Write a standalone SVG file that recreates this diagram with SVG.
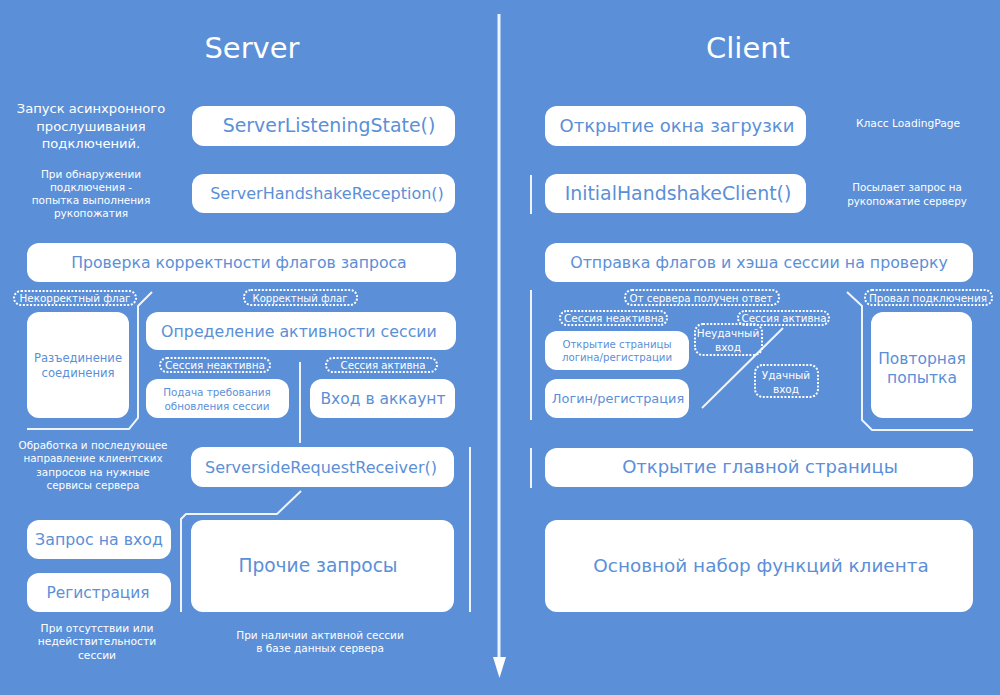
<svg xmlns="http://www.w3.org/2000/svg" width="1000" height="695" viewBox="0 0 1000 695">
<style>
text{font-family:"DejaVu Sans",Verdana,sans-serif;text-anchor:middle}
.b{fill:#fff}
.t{fill:#5b8fd7}
.w{fill:#fff}
.lb{fill:none;stroke:#fff;stroke-width:2;stroke-dasharray:2 1.6}
.ln{fill:none;stroke:#eef3fc;stroke-width:2}
.l{font-size:10.5px;fill:#fff}
</style>
<rect width="1000" height="695" fill="#5b8fd7"/>
<text class="w" x="252" y="58" font-size="29">Server</text>
<text class="w" x="748" y="58" font-size="29">Client</text>

<g id="connectors">
<line x1="499" y1="14" x2="499" y2="658" stroke="#eef3fc" stroke-width="3"/>
<path d="M493,657 L506,657 L499.5,678 Z" fill="#fff"/>
<path class="ln" d="M152,292 L138,306 L138,418 L129,429 L27,429"/>
<line class="ln" x1="300" y1="362" x2="300" y2="443"/>
<path class="ln" d="M301,491 L277,514 L186,514 L181,519 L181,612"/>
<line class="ln" x1="470" y1="447" x2="470" y2="612"/>
<line class="ln" x1="531" y1="175" x2="531" y2="214"/>
<line class="ln" x1="531" y1="290" x2="531" y2="420"/>
<line class="ln" x1="531" y1="448" x2="531" y2="488"/>
<line class="ln" x1="783" y1="328" x2="702" y2="408"/>
<path class="ln" d="M847,292 L862,306 L862,420 L872,430 L973,430"/>
</g>

<g id="note-listen">
<text class="w" font-size="13.1"><tspan x="91" y="113">Запуск асинхронного</tspan><tspan x="91" y="131">прослушивания</tspan><tspan x="91" y="148">подключений.</tspan></text>
</g>
<g id="note-handshake">
<text class="w" font-size="10.5"><tspan x="91" y="178">При обнаружении</tspan><tspan x="91" y="191">подключения -</tspan><tspan x="91" y="204">попытка выполнения</tspan><tspan x="91" y="217">рукопожатия</tspan></text>
</g>
<g id="server-listening">
<rect class="b" x="192" y="106" width="263" height="40" rx="12"/>
<text class="t" x="329" y="132" font-size="18.9">ServerListeningState()</text>
</g>
<g id="server-handshake">
<rect class="b" x="192" y="174" width="263" height="39" rx="12"/>
<text class="t" x="327" y="199" font-size="16">ServerHandshakeReception()</text>
</g>
<g id="check-flags">
<rect class="b" x="27" y="243" width="429" height="39" rx="12"/>
<text class="t" x="239" y="268" font-size="15.7">Проверка корректности флагов запроса</text>
</g>
<g id="lbl-bad-flag">
<rect class="lb" x="14" y="291" width="122" height="14" rx="7"/>
<text class="l" x="75" y="302" textLength="111" lengthAdjust="spacingAndGlyphs">Некорректный флаг</text>
</g>
<g id="lbl-good-flag">
<rect class="lb" x="244" y="290" width="113" height="15" rx="7"/>
<text class="l" x="300" y="302" textLength="95" lengthAdjust="spacingAndGlyphs">Корректный флаг</text>
</g>
<g id="disconnect">
<rect class="b" x="27" y="312" width="102" height="106" rx="12"/>
<text class="t" font-size="11.6"><tspan x="78" y="362">Разъединение</tspan><tspan x="78" y="377">соединения</tspan></text>
</g>
<g id="session-check">
<rect class="b" x="146" y="312" width="310" height="38" rx="12"/>
<text class="t" x="299" y="337" font-size="15.8">Определение активности сессии</text>
</g>
<g id="lbl-s-inactive">
<rect class="lb" x="160" y="358" width="110" height="14" rx="7"/>
<text class="l" x="215" y="369" textLength="100" lengthAdjust="spacingAndGlyphs">Сессия неактивна</text>
</g>
<g id="lbl-s-active">
<rect class="lb" x="326" y="358" width="111" height="14" rx="7"/>
<text class="l" x="383" y="369" textLength="85" lengthAdjust="spacingAndGlyphs">Сессия активна</text>
</g>
<g id="session-update">
<rect class="b" x="146" y="379" width="143" height="39" rx="12"/>
<text class="t" font-size="10.4"><tspan x="217" y="396">Подача требования</tspan><tspan x="217" y="410">обновления сессии</tspan></text>
</g>
<g id="login-acc">
<rect class="b" x="310" y="379" width="145" height="39" rx="12"/>
<text class="t" x="383" y="404" font-size="15.5">Вход в аккаунт</text>
</g>
<g id="note-process">
<text class="w" font-size="10.4"><tspan x="93" y="449">Обработка и последующее</tspan><tspan x="93" y="462">направление клиентских</tspan><tspan x="93" y="476">запросов на нужные</tspan><tspan x="93" y="489">сервисы сервера</tspan></text>
</g>
<g id="request-receiver">
<rect class="b" x="191" y="447" width="263" height="40" rx="12"/>
<text class="t" x="321" y="473" font-size="16">ServersideRequestReceiver()</text>
</g>
<g id="req-login">
<rect class="b" x="27" y="520" width="144" height="39" rx="12"/>
<text class="t" x="99" y="545" font-size="15.8">Запрос на вход</text>
</g>
<g id="req-register">
<rect class="b" x="27" y="573" width="144" height="39" rx="12"/>
<text class="t" x="98" y="598" font-size="15.4">Регистрация</text>
</g>
<g id="req-other">
<rect class="b" x="191" y="520" width="263" height="92" rx="12"/>
<text class="t" x="318" y="572" font-size="18.6">Прочие запросы</text>
</g>
<g id="note-nosession">
<text class="w" font-size="10.7"><tspan x="97" y="632">При отсутствии или</tspan><tspan x="97" y="645">недействительности</tspan><tspan x="97" y="659">сессии</tspan></text>
</g>
<g id="note-session">
<text class="w" font-size="10.5"><tspan x="320" y="639">При наличии активной сессии</tspan><tspan x="320" y="652">в базе данных сервера</tspan></text>
</g>

<g id="open-loading">
<rect class="b" x="545" y="106" width="261" height="40" rx="12"/>
<text class="t" x="677" y="132" font-size="18">Открытие окна загрузки</text>
</g>
<g id="note-loadingpage">
<text class="w" x="908" y="127" font-size="10.7">Класс LoadingPage</text>
</g>
<g id="initial-handshake">
<rect class="b" x="545" y="174" width="261" height="39" rx="12"/>
<text class="t" x="678" y="200" font-size="18.9">InitialHandshakeClient()</text>
</g>
<g id="note-send">
<text class="w" font-size="10.3"><tspan x="907" y="191">Посылает запрос на</tspan><tspan x="907" y="205">рукопожатие серверу</tspan></text>
</g>
<g id="send-flags">
<rect class="b" x="545" y="243" width="428" height="39" rx="12"/>
<text class="t" x="759" y="268" font-size="15.8">Отправка флагов и хэша сессии на проверку</text>
</g>
<g id="lbl-answer">
<rect class="lb" x="625" y="290" width="154" height="15" rx="7"/>
<text class="l" x="701" y="302" textLength="143" lengthAdjust="spacingAndGlyphs">От сервера получен ответ</text>
</g>
<g id="lbl-c-inactive">
<rect class="lb" x="560" y="311" width="107" height="14" rx="7"/>
<text class="l" x="614" y="322" textLength="100" lengthAdjust="spacingAndGlyphs">Сессия неактивна</text>
</g>
<g id="lbl-c-active">
<rect class="lb" x="738" y="311" width="91" height="14" rx="7"/>
<text class="l" x="784" y="322" textLength="85" lengthAdjust="spacingAndGlyphs">Сессия активна</text>
</g>
<g id="lbl-fail">
<rect class="lb" x="695" y="324" width="67" height="31" rx="8"/>
<text class="l"><tspan x="728" y="337">Неудачный</tspan><tspan x="728" y="351">вход</tspan></text>
</g>
<g id="lbl-success">
<rect class="lb" x="755" y="365" width="63" height="32" rx="8"/>
<text class="l"><tspan x="786" y="379">Удачный</tspan><tspan x="786" y="393">вход</tspan></text>
</g>
<g id="open-login-page">
<rect class="b" x="545" y="331" width="144" height="39" rx="12"/>
<text class="t" font-size="10.2"><tspan x="617" y="348">Открытие страницы</tspan><tspan x="617" y="361">логина/регистрации</tspan></text>
</g>
<g id="login-register">
<rect class="b" x="545" y="379" width="144" height="39" rx="12"/>
<text class="t" x="618" y="403" font-size="12.9">Логин/регистрация</text>
</g>
<g id="lbl-conn-fail">
<rect class="lb" x="865" y="290" width="127" height="15" rx="7"/>
<text class="l" x="928" y="302" textLength="118" lengthAdjust="spacingAndGlyphs">Провал подключения</text>
</g>
<g id="retry">
<rect class="b" x="871" y="312" width="101" height="106" rx="12"/>
<text class="t" font-size="15.5"><tspan x="922" y="364">Повторная</tspan><tspan x="922" y="383">попытка</tspan></text>
</g>
<g id="open-main">
<rect class="b" x="545" y="448" width="428" height="39" rx="12"/>
<text class="t" x="760" y="473" font-size="18">Открытие главной страницы</text>
</g>
<g id="client-functions">
<rect class="b" x="545" y="520" width="428" height="92" rx="12"/>
<text class="t" x="761" y="572" font-size="18.4">Основной набор функций клиента</text>
</g>
</svg>
